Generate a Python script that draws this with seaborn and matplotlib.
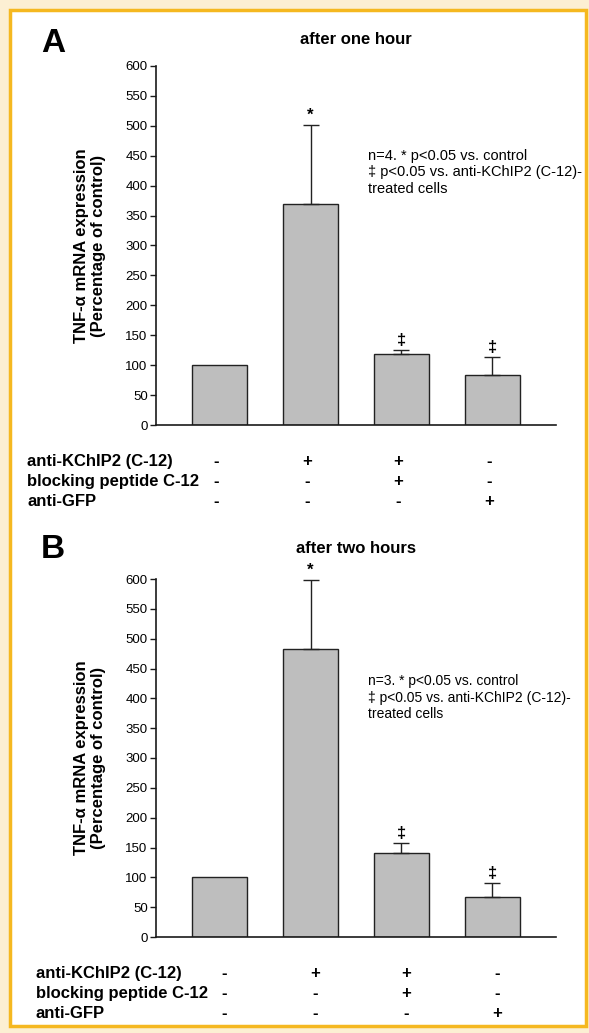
import matplotlib
matplotlib.use("Agg")
import matplotlib.pyplot as plt
import matplotlib.transforms as mtransforms
from matplotlib.patches import Rectangle
import seaborn as sns
import pandas as pd
import numpy as np

# values (percentage of control)
conditions = ["control", "anti-KChIP2", "anti-KChIP2 + peptide", "anti-GFP"]
one_hour_mean = [100, 370, 118, 83]
one_hour_err = [0, 131, 7, 30]
one_hour_marks = ["", "*", "\u2021", "\u2021"]
two_hour_mean = [100, 482, 141, 67]
two_hour_err = [0, 117, 16, 23]
two_hour_marks = ["", "*", "\u2021", "\u2021"]

row_labels = ["anti-KChIP2 (C-12)", "blocking peptide C-12", "anti-GFP"]
row_signs = [["-", "+", "+", "-"],
             ["-", "-", "+", "-"],
             ["-", "-", "-", "+"]]

yticks = list(range(0, 601, 50))

sns.set_theme(style="ticks")
plt.rcParams["font.family"] = ["Liberation Sans", "DejaVu Sans"]
for k in ["text.color", "axes.labelcolor", "xtick.color", "ytick.color"]:
    plt.rcParams[k] = "black"

W, H = 589, 1033
fig = plt.figure(figsize=(W / 100, H / 100), dpi=100)
fig.patch.set_facecolor("#fcefd3")
frame = Rectangle((9.5 / W, 1 - 1026 / H), 576.5 / W, 1016 / H, transform=fig.transFigure,
                  facecolor="white", edgecolor="#f5b820", linewidth=2.5, zorder=-10)
fig.patches.append(frame)


def draw_panel(rect, means, errs, marks, title, note, letter, letter_y,
               title_y, note_y, shift, label_x, note_size):
    ax = fig.add_axes(rect)
    ax.patch.set_alpha(0)
    df = pd.DataFrame({"cond": conditions, "val": means})
    sns.barplot(data=df, x="cond", y="val", order=conditions, color="#bebebe",
                saturation=1, edgecolor="#222222", linewidth=1.0, width=0.6,
                errorbar=None, ax=ax)
    x = np.arange(len(conditions))
    m = np.array(means)
    e = np.array(errs)
    has = e > 0
    ax.errorbar(x[has], m[has], yerr=[np.zeros(has.sum()), e[has]], fmt="none",
                ecolor="#222222", elinewidth=1.0, capsize=5.5, capthick=1.0)
    for xi, mi, ei, mk in zip(x, m, e, marks):
        if mk:
            ax.annotate(mk, (xi, mi + ei), xytext=(0, 1.5), textcoords="offset points",
                        ha="center", va="bottom", fontsize=12, fontweight="bold")

    ax.set_xlim(-0.7, 3.7)
    ax.set_ylim(0, 600)
    ax.set_yticks(yticks)
    ax.set_xticks([])
    ax.set_xlabel("")
    ax.set_ylabel("")
    sns.despine(ax=ax)
    for s in ["left", "bottom"]:
        ax.spines[s].set_color("#1a1a1a")
        ax.spines[s].set_linewidth(1.2)
    ax.tick_params(axis="y", direction="out", length=4, width=1, pad=2,
                   labelsize=9.5, color="#1a1a1a")

    ax.text(-0.165, 0.5, "TNF-\u03b1 mRNA expression\n(Percentage of control)",
            transform=ax.transAxes, rotation=90, ha="center", va="center",
            multialignment="center", fontsize=12, fontweight="bold", linespacing=1.15)
    ax.text(0.5, title_y, title, transform=ax.transAxes, ha="center", va="center",
            fontsize=12, fontweight="bold")
    ax.text(0.53, note_y, note, transform=ax.transAxes, ha="left", va="top",
            fontsize=note_size, linespacing=1.25)
    fig.text(41 / W, 1 - letter_y / H, letter, fontsize=24, fontweight="bold",
             ha="left", va="center")

    tr = mtransforms.blended_transform_factory(ax.transData, ax.transAxes)
    row_y = [-0.102, -0.158, -0.214]
    for lab, signs, yy in zip(row_labels, row_signs, row_y):
        ax.text(label_x, yy, lab, transform=ax.transAxes, ha="left", va="center",
                fontsize=12, fontweight="bold")
        for xi, sg in zip(x, signs):
            ax.text(xi + shift, yy, sg, transform=tr, ha="center", va="center",
                    fontsize=12, fontweight="bold")
    return ax


draw_panel([156 / W, 1 - 425 / H, 400 / W, 359 / H], one_hour_mean, one_hour_err,
           one_hour_marks, "after one hour",
           "n=4. * p<0.05 vs. control\n\u2021 p<0.05 vs. anti-KChIP2 (C-12)-\ntreated cells",
           "A", 43, 1.075, 0.77, -0.04, -0.3225, 10.5)
draw_panel([156 / W, 1 - 937 / H, 400 / W, 358 / H], two_hour_mean, two_hour_err,
           two_hour_marks, "after two hours",
           "n=3. * p<0.05 vs. control\n\u2021 p<0.05 vs. anti-KChIP2 (C-12)-\ntreated cells",
           "B", 550, 1.084, 0.735, 0.05, -0.30, 10)

fig.savefig("out.png", dpi=100, facecolor=fig.get_facecolor())
